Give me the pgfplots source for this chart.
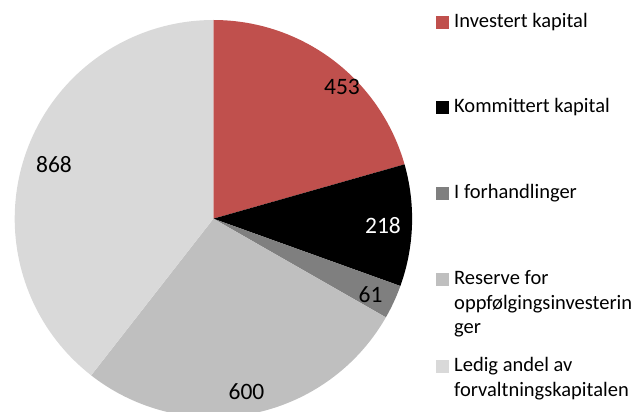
\documentclass[border=0pt]{standalone}
\usepackage{pgfplots}
\pgfplotsset{compat=1.18}
\usepackage{pgfplotstable}
\usepackage{fontspec}
\setmainfont{Carlito}
\definecolor{pieA}{HTML}{C0504D}
\definecolor{pieB}{HTML}{000000}
\definecolor{pieC}{HTML}{7F7F7F}
\definecolor{pieD}{HTML}{BFBFBF}
\definecolor{pieE}{HTML}{D9D9D9}

\pgfplotstableread{
v col
453 pieA
218 pieB
61 pieC
600 pieD
868 pieE
}\pietable

\begin{document}
\begin{tikzpicture}
\useasboundingbox (0,0) rectangle (638pt,412pt);
\begin{axis}[width=638pt,height=412pt,scale only axis,hide axis,
  xmin=0,xmax=638,ymin=0,ymax=412,clip=true]
\def\cx{213.4}\def\cy{193.3}\def\R{198.7}
\def\tot{0}
\pgfplotsforeachungrouped \i in {0,...,4}{%
 \pgfplotstablegetelem{\i}{v}\of\pietable
 \pgfmathsetmacro\tot{\tot+\pgfplotsretval}%
}
\def\a{90}
\pgfplotsforeachungrouped \i in {0,...,4}{%
 \pgfplotstablegetelem{\i}{v}\of\pietable
 \pgfmathsetmacro\b{\a-\pgfplotsretval/\tot*360}%
 \pgfplotstablegetelem{\i}{col}\of\pietable
 \let\c\pgfplotsretval
 \edef\cmd{\noexpand\addplot[fill=\c,draw=none,domain=\b:\a,samples=90,variable=\noexpand\t] ({\cx+\R*cos(\noexpand\t)},{\cy+\R*sin(\noexpand\t)}) -- (axis cs:\cx,\cy) -- cycle;}%
 \cmd
 \let\a\b
}
% data labels
\begin{scope}[every node/.style={inner sep=0pt,anchor=center,font=\fontsize{23.5}{28}\selectfont}]
\node at (axis cs:342,325) {453};
\node[text=white] at (axis cs:383,186) {218};
\node at (axis cs:370.5,117.5) {61};
\node at (axis cs:246.5,20.5) {600};
\node at (axis cs:54,247) {868};
\end{scope}
% legend
\fill[pieA] (axis cs:436,383) rectangle (axis cs:449,396);
\fill[pieB] (axis cs:436,298) rectangle (axis cs:449,311);
\fill[pieC] (axis cs:436,212) rectangle (axis cs:449,225);
\fill[pieD] (axis cs:436,126) rectangle (axis cs:449,139);
\fill[pieE] (axis cs:436,39) rectangle (axis cs:449,52);
\begin{scope}[every node/.style={inner sep=0pt,anchor=base west,font=\fontsize{20.5}{24.5}\selectfont}]
\node at (axis cs:454,384) {Investert kapital};
\node at (axis cs:454,299) {Kommittert kapital};
\node at (axis cs:454,213) {I forhandlinger};
\node at (axis cs:454,127) {Reserve for};
\node at (axis cs:454,102.5) {oppfølgingsinvesterin};
\node at (axis cs:454,78) {ger};
\node at (axis cs:454,40) {Ledig andel av};
\node at (axis cs:454,15.5) {forvaltningskapitalen};
\end{scope}
\end{axis}
\end{tikzpicture}
\end{document}
